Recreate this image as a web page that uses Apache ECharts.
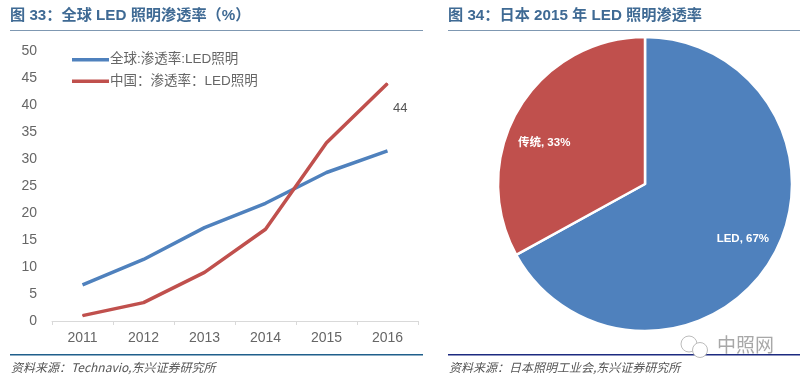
<!DOCTYPE html>
<html><head><meta charset="utf-8">
<style>html,body{margin:0;padding:0;background:#fff}#c{width:800px;height:382px}</style>
<script src="https://cdn.jsdelivr.net/npm/echarts@6/dist/echarts.min.js"></script>
</head><body><div id="c"></div>
<script>
const years = ['2011','2012','2013','2014','2015','2016'];
const globalName = '全球:渗透率:LED照明';
const chinaName = '中国：渗透率：LED照明';
const globalRate = [6.7, 11.4, 17.3, 21.8, 27.5, 31.5];
const chinaRate = [1, 3.4, 9, 17, 33, 44];
const pieNames = ['LED', '传统'];
const pieValues = [67, 33];
const pieLabelOffsets = [[32,16],[-35,-2]];
const font = '"Liberation Sans","Noto Sans CJK SC",sans-serif';
const chart = echarts.init(document.getElementById('c'), null, {renderer:'canvas'});
const txt = (l,t,text,style)=>({type:'text',left:l,top:t,style:Object.assign({text,fontFamily:font},style)});
const titleStyle={fontSize:15.2,fontWeight:'bold',fill:'#3f6a94'};
const srcStyle={fontSize:12,fontStyle:'italic',fill:'#555',fontFamily:'"Noto Sans CJK SC",sans-serif'};
chart.setOption({
  animation:false,
  textStyle:{fontFamily:font},
  legend:{
    orient:'vertical',left:67,top:48,itemWidth:37,itemHeight:3.5,itemGap:8,
    data:[globalName,chinaName],
    icon:'rect',
    textStyle:{fontSize:13.5,color:'#666',padding:[0,0,0,-4]}
  },
  grid:{left:52,top:51,width:366,height:270},
  xAxis:{type:'category',data:years,
    axisLine:{lineStyle:{color:'#d9d9d9',width:1}},
    axisTick:{show:true,length:4,lineStyle:{color:'#d9d9d9'},inside:false},
    axisLabel:{fontSize:14,color:'#666',margin:10}},
  yAxis:{type:'value',min:0,max:50,interval:5,
    axisLine:{show:false},axisTick:{show:false},splitLine:{show:false},
    axisLabel:{fontSize:14,color:'#666',margin:15}},
  series:[
    {name:globalName,type:'line',data:globalRate,symbol:'none',lineStyle:{color:'#4f81bd',width:3.5},itemStyle:{color:'#4f81bd'}},
    {name:chinaName,type:'line',
      data:chinaRate.map((v,i)=>i===chinaRate.length-1?{value:v,label:{show:true,formatter:'{c}',position:'right',offset:[0,25],fontSize:13,color:'#555'}}:v),
      symbol:'circle',symbolSize:1,showSymbol:true,showAllSymbol:true,lineStyle:{color:'#c0504d',width:3.5},itemStyle:{color:'#c0504d'}},
    {type:'pie',center:[645,184],radius:[0,147],startAngle:90,clockwise:true,silent:true,
      data:pieNames.map((n,i)=>({name:n,value:pieValues[i],label:{offset:pieLabelOffsets[i]}})),
      color:['#4f81bd','#c0504d'],
      itemStyle:{borderColor:'#fff',borderWidth:2.5},
      label:{show:true,position:'inside',formatter:'{b}, {c}%',fontSize:11.5,fontWeight:'bold',color:'#fff'},
      labelLine:{show:false}}
  ],
  graphic:[
    txt(10,8,'图 33：全球 LED 照明渗透率（%）',titleStyle),
    txt(448,8,'图 34：日本 2015 年 LED 照明渗透率',titleStyle),
    {type:'rect',shape:{x:10,y:30,width:413,height:1},style:{fill:'#7f98b2'}},
    {type:'rect',shape:{x:448,y:30,width:352,height:1},style:{fill:'#7f98b2'}},
    {type:'rect',shape:{x:10,y:354,width:413,height:1.5},style:{fill:'#1f5f8b'}},
    {type:'rect',shape:{x:448,y:354,width:352,height:1.5},style:{fill:'#1c2a80'}},
    txt(11,361,'资料来源：Technavio,东兴证券研究所',srcStyle),
    txt(449,361,'资料来源：日本照明工业会,东兴证券研究所',srcStyle),
    {type:'circle',shape:{cx:689,cy:344,r:8},style:{fill:'#fff',stroke:'#bbb',lineWidth:1}},
    {type:'circle',shape:{cx:700,cy:350,r:7.5},style:{fill:'#fff',stroke:'#bbb',lineWidth:1}},
    txt(717,335,'中照网',{fontSize:19,fill:'#a8a8a8',fontFamily:'"Noto Sans CJK SC",sans-serif'})
  ]
});
</script></body></html>
